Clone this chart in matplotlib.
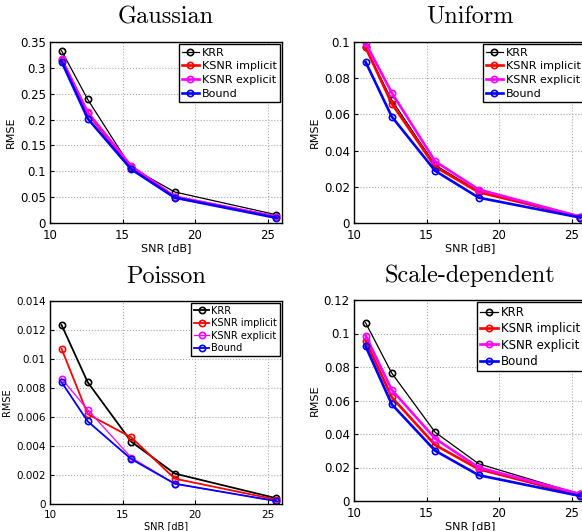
import numpy as np
import matplotlib
matplotlib.use("Agg")
import matplotlib.pyplot as plt

snr = [10.8, 12.6, 15.6, 18.6, 25.6]
methods = ["KRR", "KSNR implicit", "KSNR explicit", "Bound"]
colors = ["black", "#ff0000", "#ff00ff", "#0000ff"]

gauss = {
    "KRR": [0.333, 0.239, 0.107, 0.060, 0.016],
    "KSNR implicit": [0.316, 0.212, 0.108, 0.050, 0.012],
    "KSNR explicit": [0.317, 0.214, 0.110, 0.051, 0.012],
    "Bound": [0.312, 0.202, 0.104, 0.049, 0.010],
}
uniform = {
    "KRR": [0.097, 0.068, 0.032, 0.0175, 0.003],
    "KSNR implicit": [0.097, 0.066, 0.031, 0.017, 0.0035],
    "KSNR explicit": [0.0995, 0.072, 0.034, 0.0185, 0.0035],
    "Bound": [0.089, 0.0588, 0.0288, 0.014, 0.003],
}
poisson = {
    "KRR": [0.01234, 0.0084, 0.0043, 0.0021, 0.0004],
    "KSNR implicit": [0.0107, 0.0062, 0.0046, 0.00175, 0.0003],
    "KSNR explicit": [0.00864, 0.0065, 0.0032, 0.0014, 0.0002],
    "Bound": [0.0084, 0.0057, 0.0031, 0.0014, 0.0002],
}
scaledep = {
    "KRR": [0.1064, 0.0764, 0.041, 0.0222, 0.004],
    "KSNR implicit": [0.0958, 0.062, 0.0334, 0.019, 0.0034],
    "KSNR explicit": [0.0988, 0.0664, 0.0372, 0.020, 0.0042],
    "Bound": [0.0924, 0.0578, 0.030, 0.0154, 0.003],
}

W, H = 582, 531
fig = plt.figure(figsize=(W / 100, H / 100), dpi=100)


def axpos(l, t, r, b):
    return [l / W, 1 - b / H, (r - l) / W, (b - t) / H]


# title, data, axes box, ymax, yticks, tick labels, font size, legend font, label spacing, thin lines
panels = [
    ("Gaussian", gauss, axpos(50, 42, 282, 223), 0.35, np.arange(0, 0.351, 0.05),
     ["0", "0.05", "0.1", "0.15", "0.2", "0.25", "0.3", "0.35"], 8, 8, 0.33, False),
    ("Uniform", uniform, axpos(354, 42, 586, 223), 0.1, np.arange(0, 0.101, 0.02),
     ["0", "0.02", "0.04", "0.06", "0.08", "0.1"], 8, 8, 0.33, False),
    ("Poisson", poisson, axpos(50, 301, 282, 504), 0.014, np.arange(0, 0.0141, 0.002),
     ["0", "0.002", "0.004", "0.006", "0.008", "0.01", "0.012", "0.014"], 7, 7, 0.25, True),
    ("Scale-dependent", scaledep, axpos(354, 300, 586, 501), 0.12, np.arange(0, 0.121, 0.02),
     ["0", "0.02", "0.04", "0.06", "0.08", "0.1", "0.12"], 8, 8.5, 0.28, False),
]

for title, data, pos, ymax, yt, ytl, fs, lfs, lsp, thin in panels:
    ax = fig.add_axes(pos)
    for m, c in zip(methods, colors):
        if thin:
            lw = 1.3 if m != "KSNR explicit" else 0.9
        else:
            lw = 0.9 if m == "KRR" else 1.9
        ax.plot(snr, data[m], color=c, lw=lw, marker="o", ms=4.5, mfc="none",
                mec=c, mew=1.2, label=m)
    ax.set_xlim(10, 26)
    ax.set_ylim(0, ymax)
    ax.set_xticks([10, 15, 20, 25])
    ax.set_yticks(yt)
    ax.set_yticklabels(ytl)
    ax.tick_params(axis="x", labelsize=fs + 0.5, direction="in", length=3, pad=4)
    ax.tick_params(axis="y", labelsize=fs + 0.5, direction="in", length=3, pad=3)
    ax.grid(True, linestyle=":", color="#aaaaaa", lw=0.8)
    for s in ax.spines.values():
        s.set_linewidth(1.0)
    ax.set_xlabel("SNR [dB]", fontsize=fs, labelpad=1)
    ax.set_ylabel("RMSE", fontsize=fs, labelpad=3)
    ax.set_title(title, fontsize=17.5, fontfamily="cmr10", pad=13)
    leg = ax.legend(loc="upper right", fontsize=lfs, handlelength=1.5,
                    handletextpad=0.25, borderpad=0.3, labelspacing=lsp,
                    borderaxespad=0.2, fancybox=False, framealpha=1)
    leg.get_frame().set_edgecolor("black")
    leg.get_frame().set_linewidth(1.0)

fig.savefig("out.png", dpi=100)
